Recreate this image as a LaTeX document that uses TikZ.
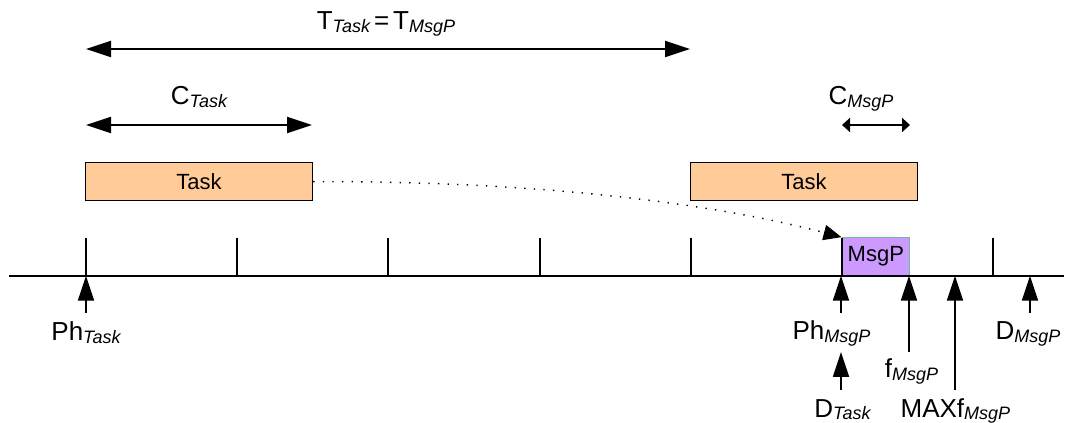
\documentclass[tikz,border=0pt]{standalone}
\usepackage{fontspec}
\setmainfont{Liberation Sans}
\usetikzlibrary{arrows.meta}

% label with an italic, slightly lowered subscript
\newcommand\lblsub[2]{{\fontsize{19.5}{23}\selectfont #1}\raisebox{-2pt}{\fontsize{13.5}{16}\selectfont\itshape #2}}

\definecolor{taskfill}{HTML}{FFCC99}
\definecolor{msgfill}{HTML}{CC99FF}
\definecolor{msgedge}{HTML}{6FB89A}

\tikzset{
  taskbox/.style={draw=black, line width=1pt, fill=taskfill, rectangle, inner sep=0pt,
    minimum width=170.25pt, minimum height=28.5pt, font=\fontsize{16.5}{19}\selectfont},
  msgbox/.style={draw=msgedge, line width=0.8pt, fill=msgfill, rectangle, inner sep=0pt,
    minimum width=50.6pt, minimum height=28.5pt, font=\fontsize{16.5}{19}\selectfont},
  span/.style={line width=1.4pt, {Triangle[length=18.75pt,width=12pt]}-{Triangle[length=18.75pt,width=12pt]}},
  shortspan/.style={line width=1.4pt, {Triangle[length=6pt,width=10.5pt]}-{Triangle[length=6pt,width=10.5pt]}},
  marker/.style={line width=1.4pt, -{Triangle[length=18.75pt,width=12pt]}},
  lbl/.style={anchor=base, inner sep=0pt},
  axis/.style={line width=1.5pt},
  tick/.style={line width=1.5pt},
  flow/.style={line width=1.1pt, dash pattern=on 1pt off 6.2pt,
    -{Triangle[length=13.5pt,width=11.5pt]}}
}

\begin{document}
\begin{tikzpicture}[x=0.75pt,y=-0.75pt]
\useasboundingbox (0,0) rectangle (1066,423);

% period and execution spans
\coordinate (tA) at (86,49);
\coordinate (tB) at (690,49);
\draw[span] (tA) -- (tB);
\node[lbl] (tlabel) at (386,30) {\lblsub{T}{Task}\hspace{3pt}{\fontsize{19.5}{23}\selectfont=}\hspace{3pt}\lblsub{T}{MsgP}};

\coordinate (cA) at (86,125);
\coordinate (cB) at (312,125);
\draw[span] (cA) -- (cB);
\node[lbl] (clabel) at (199,105) {\lblsub{C}{Task}};

\coordinate (cmA) at (842,125);
\coordinate (cmB) at (910,125);
\draw[shortspan] (cmA) -- (cmB);
\node[lbl] (cmlabel) at (861,105) {\lblsub{C}{MsgP}};

% task instances and the message
\node[taskbox] (task1) at (199,181.6) {Task};
\node[taskbox] (task2) at (804,181.6) {Task};
\node[msgbox] (msgp) at (875.8,256.7) {MsgP};

% time axis with ticks
\coordinate (axL) at (9,275.7);
\coordinate (axR) at (1064,275.7);
\draw[axis] (axL) -- (axR);
\foreach \x in {86,237.2,388.4,539.6,690.8,842,993.2}
  \draw[tick] (\x,237.7) -- (\x,275.7);

% the task hands its output to the message
\draw[flow] (task1.east) .. controls (520,181) and (700,200) .. (msgp.north west);

% event markers below the axis
\coordinate (phTb) at (86,313);   \coordinate (phTt) at (86,275.7);
\coordinate (phMb) at (841,313);  \coordinate (phMt) at (841,275.7);
\coordinate (dTb) at (841,390);   \coordinate (dTt) at (841,352);
\coordinate (fMb) at (909,352);   \coordinate (fMt) at (909,275.7);
\coordinate (mfb) at (955,390);   \coordinate (mft) at (955,275.7);
\coordinate (dMb) at (1030,313);  \coordinate (dMt) at (1030,275.7);
\draw[marker] (phTb) -- (phTt);
\draw[marker] (phMb) -- (phMt);
\draw[marker] (dTb) -- (dTt);
\draw[marker] (fMb) -- (fMt);
\draw[marker] (mfb) -- (mft);
\draw[marker] (dMb) -- (dMt);

\node[lbl] (phT) at (86,341) {\lblsub{Ph}{Task}};
\node[lbl] (phM) at (831.5,340) {\lblsub{Ph}{MsgP}};
\node[lbl] (dT) at (842.5,417) {\lblsub{D}{Task}};
\node[lbl] (fM) at (911.5,378) {\lblsub{f}{MsgP}};
\node[lbl] (mf) at (955.4,417) {\lblsub{MAXf}{MsgP}};
\node[lbl] (dM) at (1028,340) {\lblsub{D}{MsgP}};
\end{tikzpicture}
\end{document}
